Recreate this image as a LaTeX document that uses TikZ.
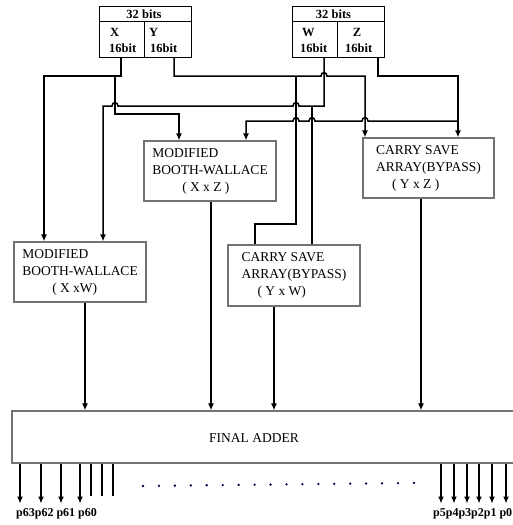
\documentclass[tikz,border=0pt]{standalone}
\usepackage{fontspec}
\setmainfont{Liberation Serif}
\usetikzlibrary{arrows.meta}
\begin{document}
\begin{tikzpicture}[x=1pt,y=-1pt,
  pbox/.style={draw=black!55, line width=1.1pt, fill=white, inner sep=0pt, align=left,
    font=\fontsize{13.5}{17}\selectfont},
  cell/.style={draw=black, line width=0.9pt, inner sep=0pt},
  celltxt/.style={inner sep=0pt, font=\bfseries\fontsize{12.5}{15}\selectfont},
  conn/.style={line width=1.5pt, black},
  arr/.style={conn, -{Latex[length=7pt,width=6pt]}},
  lbl/.style={inner sep=0pt, font=\bfseries\fontsize{12}{14}\selectfont}]
\useasboundingbox (0,0) rectangle (513,525);
\fill[white] (0,0) rectangle (513,525);
\clip (0,0) rectangle (513,525);

% input registers
\node[cell, minimum width=92pt, minimum height=15pt] (lh) at (145,13.5) {};
\node[cell, minimum width=45pt, minimum height=36pt] (cx) at (121.5,39) {};
\node[cell, minimum width=47pt, minimum height=36pt] (cy) at (167.5,39) {};
\node[cell, minimum width=92pt, minimum height=15pt] (rh) at (338,13.5) {};
\node[cell, minimum width=45pt, minimum height=36pt] (cw) at (314.5,39) {};
\node[cell, minimum width=47pt, minimum height=36pt] (cz) at (360.5,39) {};
\node[celltxt, anchor=base] (lht) at (144,18) {32 bits};
\node[celltxt, anchor=base] (rht) at (333.5,18) {32 bits};
\node[celltxt, anchor=base west] (tx) at (110,36) {X};
\node[celltxt, anchor=base west] (tx2) at (109,52) {16bit};
\node[celltxt, anchor=base west] (ty) at (149,36) {Y};
\node[celltxt, anchor=base west] (ty2) at (150,52) {16bit};
\node[celltxt, anchor=base west] (tw) at (302,36) {W};
\node[celltxt, anchor=base west] (tw2) at (300,52) {16bit};
\node[celltxt, anchor=base] (tz) at (357,36) {Z};
\node[celltxt, anchor=base west] (tz2) at (345,52) {16bit};

% multiplier blocks
\node[pbox, minimum width=132pt, minimum height=60pt] (xz) at (210,171)
  {MODIFIED\\BOOTH-WALLACE\\\hspace*{30pt}( X x Z )};
\node[pbox, minimum width=131pt, minimum height=60pt] (yz) at (428.5,168)
  {CARRY SAVE\\ARRAY(BYPASS)\\\hspace*{16pt}( Y x Z )};
\node[pbox, minimum width=132pt, minimum height=60pt] (xw) at (80,272)
  {MODIFIED\\BOOTH-WALLACE\\\hspace*{30pt}( X xW)};
\node[pbox, minimum width=132pt, minimum height=61pt] (ywz) at (294,275.5)
  {CARRY SAVE\\ARRAY(BYPASS)\\\hspace*{16pt}( Y x W)};

% final adder
\node[pbox, minimum width=504pt, minimum height=52pt] (adder) at (264,437) {};
\node[inner sep=0pt, font=\fontsize{13.5}{17}\selectfont] (addert) at (254,438) {FINAL ADDER};

% junction coordinates
\coordinate (xs) at (115,76);
\coordinate (wj) at (312,106);
\coordinate (yj) at (296,76);
\coordinate (zj) at (458,121);

% X
\draw[arr] ([xshift=-0.5pt]cx.south) |- (44,76) -- ([xshift=-36pt]xw.north);
\draw[arr] (xs) -- (115,114) -| ([xshift=-31pt]xz.north);
% W
\draw[arr] ([xshift=9.5pt]cw.south) |- (wj) -- (299,106)
  .. controls (299,101.5) and (293,101.5) .. (293,106) -- (118,106)
  .. controls (118,101.5) and (112,101.5) .. (112,106) -- (103,106)
  -- ([xshift=23pt]xw.north);
\draw[conn] (wj) -- ([xshift=18pt]ywz.north);
% Y
\draw[arr] ([xshift=6.5pt]cy.south) |- (321,76)
  .. controls (321,71.5) and (327,71.5) .. (327,76) -- (365,76)
  -- ([xshift=-63.5pt]yz.north);
\draw[conn] (yj) -- (296,224) -| ([xshift=-39pt]ywz.north);
% Z
\draw[arr] ([xshift=17.5pt]cz.south) |- (458,76) -- ([xshift=29.5pt]yz.north);
\draw[arr] (zj) -- (368,121)
  .. controls (368,116.5) and (362,116.5) .. (362,121) -- (315,121)
  .. controls (315,116.5) and (309,116.5) .. (309,121) -- (299,121)
  .. controls (299,116.5) and (293,116.5) .. (293,121) -- (246,121)
  -- ([xshift=36pt]xz.north);

% outputs to final adder
\coordinate (o1) at ([xshift=5pt]xw.south);
\coordinate (o2) at ([xshift=1pt]xz.south);
\coordinate (o3) at ([xshift=-20pt]ywz.south);
\coordinate (o4) at ([xshift=-7.5pt]yz.south);
\draw[arr] (o1) -- (o1 |- adder.north);
\draw[arr] (o2) -- (o2 |- adder.north);
\draw[arr] (o3) -- (o3 |- adder.north);
\draw[arr] (o4) -- (o4 |- adder.north);

% product bits
\foreach \x in {20,41,61,80,441,454,467,479,492,506}
  \draw[arr] ([xshift=\x pt-264pt]adder.south) -- ++(0,40);
\foreach \x in {91,102,113}
  \draw[conn] ([xshift=\x pt-264pt]adder.south) -- ++(0,32);
\foreach \i in {0,...,17}
  \fill[black!70!blue] ({143+\i*15.94},{486-\i*0.18}) circle (1.3);

\node[lbl, anchor=base west] (pl) at (16,516) {p63p62 p61 p60};
\node[lbl, anchor=base west] (pr) at (433,516) {p5p4p3p2p1 p0};
\end{tikzpicture}
\end{document}
